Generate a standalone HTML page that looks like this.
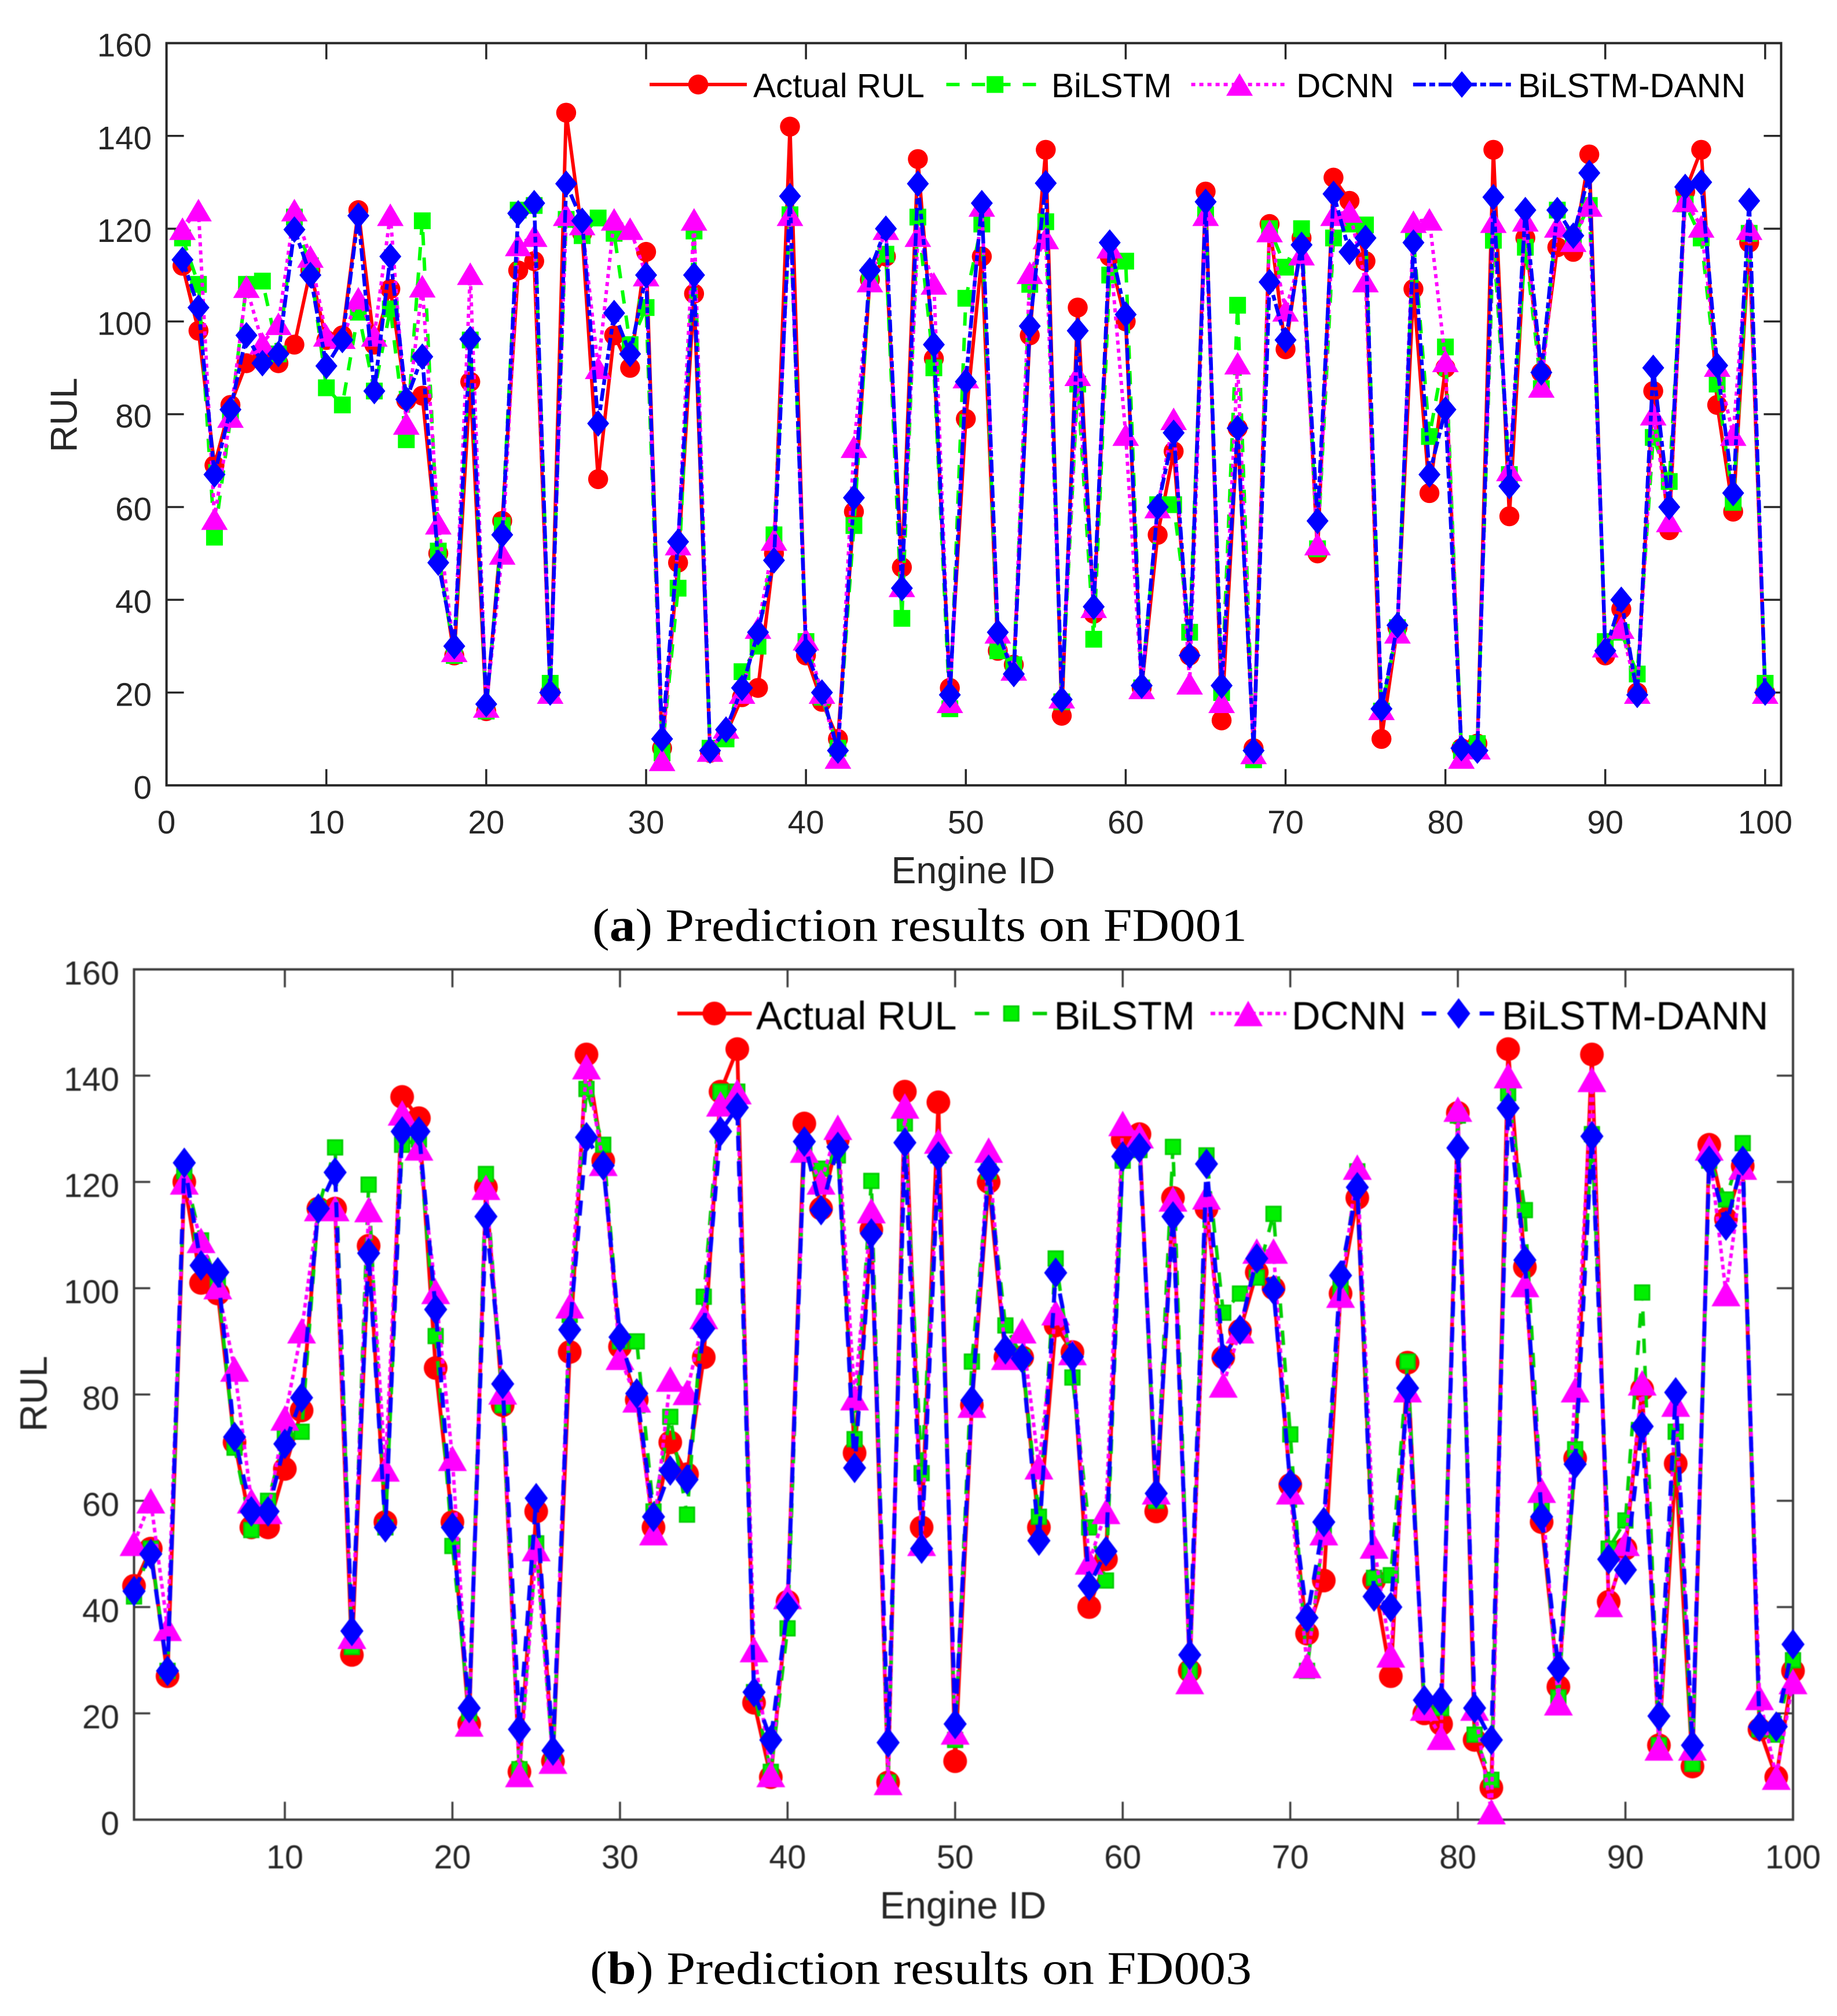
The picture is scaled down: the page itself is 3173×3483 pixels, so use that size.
<!DOCTYPE html>
<html lang="en">
<head>
<meta charset="utf-8">
<title>Prediction results on FD001 and FD003</title>
<style>
html,body{margin:0;padding:0;background:#fff;}
svg{display:block;}
text{font-family:"Liberation Sans",Arial,sans-serif;}
.caption{font-family:"Liberation Serif","Times New Roman",serif;fill:#000;}
#chart-b-group{filter:blur(0.9px);}
</style>
</head>
<body>
<svg id="figure" xmlns="http://www.w3.org/2000/svg" width="3173" height="3483" viewBox="0 0 3173 3483">
<rect x="0" y="0" width="3173" height="3483" fill="#fff"/>
<g id="chart-a-group"></g>
<g id="chart-b-group"></g>
<text class="caption" x="1023" y="1625.5" font-size="80" textLength="1131" lengthAdjust="spacingAndGlyphs">(<tspan font-weight="bold">a</tspan>) Prediction results on FD001</text>
<text class="caption" x="1019" y="3427.7" font-size="81" textLength="1143" lengthAdjust="spacingAndGlyphs">(<tspan font-weight="bold">b</tspan>) Prediction results on FD003</text>
</svg>
<script>
const engineIds=[1,2,3,4,5,6,7,8,9,10,11,12,13,14,15,16,17,18,19,20,21,22,23,24,25,26,27,28,29,30,31,32,33,34,35,36,37,38,39,40,41,42,43,44,45,46,47,48,49,50,51,52,53,54,55,56,57,58,59,60,61,62,63,64,65,66,67,68,69,70,71,72,73,74,75,76,77,78,79,80,81,82,83,84,85,86,87,88,89,90,91,92,93,94,95,96,97,98,99,100];
const yTickLabels=[0,20,40,60,80,100,120,140,160];
const xTickLabelsA=[0,10,20,30,40,50,60,70,80,90,100];
const xTickLabelsB=[10,20,30,40,50,60,70,80,90,100];
const seriesNames=["Actual RUL","BiLSTM","DCNN","BiLSTM-DANN"];

const actualA=[112,98,69,82,91,93,91,95,111,96,97,124,95,107,83,84,50,28,87,16,57,111,113,20,145,119,66,97,90,115,8,48,106,7,11,19,21,50,142,28,18,10,59,109,114,47,135,92,21,79,114,29,26,97,137,15,103,37,114,100,21,54,72,28,128,14,77,8,121,94,118,50,131,126,113,10,34,107,63,90,8,9,137,58,118,89,116,115,136,28,38,20,85,55,128,137,82,59,117,20];
const bilstmA=[118,108,53.5,79,108,108.7,93,122.5,112,85.7,82,102,85,102.7,74.5,121.7,50.5,28,96,16,56,124,125,22,122,118.5,122.3,119,95,103,7,42.5,119.5,8,10,24.5,30,54,123,31,19,8,56,110,114.5,36,122.5,90,16.5,105,121,29,26,108,121.5,18,86.5,31.5,110,113,21,60.5,60.5,33,123,20,103.5,5.5,120,111.7,120,51,118,121,120.8,16,34,118,75.2,94.5,7.5,9,117.5,67,116,85.5,124,118,125,31,33,24,75,65.5,125.3,118,86.5,61,119,22];
const dcnnA=[120,124,57.5,79.5,107.5,95.3,99.5,124,114,97,96.5,105,97,123,78,107.6,56.5,29,110.3,17,50,116.5,118.5,20,123,121,90,122,120,110,5.5,52,122,7.5,12.5,20,34,53,123,31.5,20,6,73,108.7,120,43,118.5,108.2,18,88,125,33,25,110.5,118,19,88.5,38.5,116,75.6,21,60,79,22,123,18,91,7,119.5,102.4,114.5,52,123,123.7,108.7,16.5,33,121.5,122,91.5,6,8,121.5,68,121.8,86,120.5,117.4,125,30,34,20,80,57,126,120.5,90.5,75.6,120,20];
const dannA=[113.3,103,67,81,97,91,93,119.8,110,90.4,96,122.8,85,114,83.2,92.4,48,30,96.2,17.5,54,123.3,125.5,20,129.7,121.7,78,101.8,93,110,10,52.5,110,7.5,12,21,33,48.5,127,29,20,7.5,62,111,120,42.5,129.7,95,19.5,87,125.5,33,24,99,129.8,18.5,98,38.5,117,101.5,21.5,60,76,28,125.8,21.5,77,7.5,108.5,96,116.5,57,127.5,115,118,16.5,34.5,117,67,81,8,7.5,126.8,64.5,124,89,124,118.5,132,29,40,19.5,90,60,129,130,90.5,63,126,20];

const actualB=[44,51,27,120,101,99,71,55,55,66,77,115,115,31,108,56,136,132,85,56,18,119,78,9,58,11,88,144,124,89,79,55,71,65,87,137,145,22,8,41,131,115,128,69,111,7,137,55,135,11,78,120,87,87,55,93,88,40,49,128,129,58,117,28,115,87,92,103,100,63,35,45,99,117,45,27,86,20,18,133,15,6,145,104,56,25,68,144,41,51,81,14,67,10,127,113,123,17,8,28];
const bilstmB=[42,51,28,122,109,101,70,54.5,60,72,73,115,126.5,32.5,119.5,55,127,128,91,51.5,20,121.5,78,9.5,52,11,95,137.5,127,90,90,58,75.8,57.4,98.4,137,137,24,9,36,127,122.5,125,71.6,120.2,7,131,65.2,125,15,86.2,122,93,87,57,105.6,83.2,55,45,124,126,60,126.6,28,125,95.4,99,102,114,72.5,28,55,100,122,45.5,46,86.2,21,21,132.5,16,7.5,136.7,114.7,59,23,69.7,129,51,56.3,99.2,14,73,10.5,124,116.7,127.3,17,16,30];
const dcnnB=[52,60,36,120,109,100.3,84.8,60,58,75.6,92,115,115,34.5,114.8,66,133,126.4,99.4,68,18,119,80.5,8.5,51,11,96.7,141.7,123.5,87,79,54,82.9,80.4,94.7,134.7,137,32,8.5,42,126,120,130.3,79.4,114.6,7,134.3,52,127.7,16.5,78,126,87,92,66.4,95.4,87.9,48.5,58,131,128.7,61.7,116.8,26,117.2,81.8,92,107,107,61.7,29,54,98.7,122.8,51.5,31,80.9,21,15.5,133.7,21,1.5,140,100.7,62,22,80.9,139.3,40.5,52,82.2,13.5,78.2,13.5,126.4,99,122.8,23,8,26];
const dannB=[43,50,28,123.6,104.3,103,72,58,58,70.7,79.4,115,121.8,35.5,106.6,55,129.5,129.5,96,55,21,113.5,82,17,60.5,13,92.2,128.4,123.1,90.8,80.2,57,65.7,64,92.4,129.5,134,24,15,40,127.6,114.7,126.6,66.2,110.3,14.5,127.4,51,124.8,18,78.9,122.3,88.5,86.8,52.5,102.9,87.1,44,50.5,124.8,126.4,61.4,113.5,31,123.4,86.8,92.2,105.6,99.7,63.2,38,56,102.4,119,42,40,81.2,22.5,22.5,126.4,21,15,133.9,105.3,57,28.5,66.9,128.6,49,47,74,19.5,80.4,14,124,111.8,124,17.5,17.5,33];

const NS="http://www.w3.org/2000/svg";
function make(tag,attrs,parent,txt){
  const e=document.createElementNS(NS,tag);
  for(const k in attrs){e.setAttribute(k,attrs[k]);}
  if(txt!==undefined){e.textContent=txt;}
  parent.appendChild(e);
  return e;
}
function marker(shape,x,y,sz,st,parent,label){
  let m;
  if(shape==='circle'){
    m=make('circle',{cx:x,cy:y,r:sz.c/2,fill:st.fill},parent);
  }else if(shape==='square'){
    m=make('rect',{x:x-sz.s/2,y:y-sz.s/2,width:sz.s,height:sz.s,fill:st.fill,stroke:st.edge,'stroke-width':st.edgeW},parent);
  }else if(shape==='triangle'){
    m=make('polygon',{points:(x)+','+(y-sz.th/2)+' '+(x+sz.tw/2)+','+(y+sz.th/2)+' '+(x-sz.tw/2)+','+(y+sz.th/2),fill:st.fill},parent);
  }else{
    m=make('polygon',{points:(x)+','+(y-sz.dh/2)+' '+(x+sz.dw/2)+','+y+' '+(x)+','+(y+sz.dh/2)+' '+(x-sz.dw/2)+','+y,fill:st.fill},parent);
  }
  
  
  return m;
}
function drawChart(cfg){
  const root=document.getElementById(cfg.groupId);
  const xPos=function(v){return cfg.left+(v-cfg.xMin)*(cfg.right-cfg.left)/(cfg.xMax-cfg.xMin);};
  const yPos=function(v){return cfg.bottom-(v-0)*(cfg.bottom-cfg.top)/160;};

  const frame=make('rect',{x:cfg.left,y:cfg.top,width:cfg.right-cfg.left,height:cfg.bottom-cfg.top,fill:'none',stroke:cfg.axisColor,'stroke-width':4},root);
  
  

  cfg.xTicks.forEach(function(t){
    const x=xPos(t);
    const a=make('line',{x1:x,x2:x,y1:cfg.bottom,y2:cfg.bottom-cfg.xTickLen,stroke:cfg.axisColor,'stroke-width':3.5},root);
    
    
    const b=make('line',{x1:x,x2:x,y1:cfg.top,y2:cfg.top+cfg.xTickLen,stroke:cfg.axisColor,'stroke-width':3.5},root);
    
    
    const l=make('text',{x:x,y:cfg.xLabelY,'text-anchor':'middle','font-size':cfg.tickFont,fill:'#262626'},root,String(t));
    
    
  });
  yTickLabels.forEach(function(t){
    const y=yPos(t);
    const a=make('line',{x1:cfg.left,x2:cfg.left+cfg.yTickLen,y1:y,y2:y,stroke:cfg.axisColor,'stroke-width':3.5},root);
    
    
    const b=make('line',{x1:cfg.right,x2:cfg.right-cfg.yTickLen,y1:y,y2:y,stroke:cfg.axisColor,'stroke-width':3.5},root);
    
    
    const l=make('text',{x:cfg.yLabelX,y:y+cfg.yLabelDy,'text-anchor':'end','font-size':cfg.tickFont,fill:'#262626'},root,String(t));
    
    
  });
  const xt=make('text',{x:cfg.xTitleX,y:cfg.xTitleY,'text-anchor':'middle','font-size':cfg.titleFont,fill:'#262626'},root,'Engine ID');
  
  
  const yt=make('text',{x:0,y:0,'text-anchor':'middle','font-size':cfg.titleFont,fill:'#262626',transform:'translate('+cfg.yTitleX+','+cfg.yTitleY+') rotate(-90)'},root,'RUL');
  
  

  cfg.series.forEach(function(s){
    const g=make('g',{},root);
    
    
    const pts=engineIds.map(function(id,i){return xPos(id)+','+yPos(s.values[i]);}).join(' ');
    const ln=make('polyline',{points:pts,fill:'none',stroke:s.line,'stroke-width':s.lw,'stroke-dasharray':s.dash,'stroke-linejoin':'round'},g);
    
    
    engineIds.forEach(function(id,i){
      marker(s.shape,xPos(id),yPos(s.values[i]),cfg.sizes,s,g,s.slug+'-point');
    });
  });

  const leg=make('g',{},root);
  
  
  cfg.series.forEach(function(s,i){
    const p=cfg.legend[i];
    const e=make('g',{},leg);
    
    
    const ln=make('line',{x1:p.x1,x2:p.x2,y1:cfg.legendY,y2:cfg.legendY,stroke:s.line,'stroke-width':s.lw,'stroke-dasharray':s.legendDash||s.dash},e);
    
    
    marker(s.shape,p.m,cfg.legendY,cfg.sizes,s,e,'legend-marker-'+s.slug);
    const t=make('text',{x:p.t,y:cfg.legendBase,'font-size':cfg.legendFont,fill:'#000'},e,seriesNames[i]);
    
    
  });
}

drawChart({
  groupId:'chart-a-group',left:287.6,right:3076.5,top:74.5,bottom:1356.8,xMin:0,xMax:101,
  xTicks:xTickLabelsA,axisColor:'#262626',xTickLen:28,yTickLen:30,
  xLabelY:1440,yLabelX:262,yLabelDy:23,tickFont:56.5,titleFont:64.5,
  xTitleX:1681,xTitleY:1526,yTitleX:132.6,yTitleY:717,
  sizes:{c:34.5,s:29,tw:46,th:39,dw:38,dh:46},
  legendY:146,legendBase:168,legendFont:58.5,
  legend:[{x1:1122,x2:1290,m:1206,t:1301},{x1:1634.5,x2:1791,m:1718.7,t:1816},{x1:2057.6,x2:2219.8,m:2141,t:2239},{x1:2440.8,x2:2609.8,m:2525,t:2622}],
  series:[
    {slug:'actual-rul',values:actualA,shape:'circle',line:'#ff0000',fill:'#ff0000',lw:6,dash:'none'},
    {slug:'bilstm',values:bilstmA,shape:'square',line:'#00ff00',fill:'#00ff00',edge:'none',edgeW:0,lw:6,dash:'23 21'},
    {slug:'dcnn',values:dcnnA,shape:'triangle',line:'#ff00ff',fill:'#ff00ff',lw:6,dash:'7 7'},
    {slug:'bilstm-dann',values:dannA,shape:'diamond',line:'#0000ff',fill:'#0000ff',lw:6.5,dash:'22 6 10 6'}
  ]
});
drawChart({
  groupId:'chart-b-group',left:231.5,right:3097,top:1674.8,bottom:3143.8,xMin:1,xMax:100,
  xTicks:xTickLabelsB,axisColor:'#3a3a3a',xTickLen:31,yTickLen:28,
  xLabelY:3228,yLabelX:206,yLabelDy:26,tickFont:57.5,titleFont:65.5,
  xTitleX:1663.5,xTitleY:3314.6,yTitleX:80.7,yTitleY:2408,
  sizes:{c:41,s:25,tw:50,th:44,dw:40,dh:53},
  legendY:1751,legendBase:1778.4,legendFont:68.5,
  legend:[{x1:1170,x2:1298.5,m:1234,t:1306},{x1:1683.6,x2:1808.5,m:1746.8,t:1820.5},{x1:2091,x2:2221.8,m:2156,t:2231},{x1:2455.8,x2:2581,m:2519.5,t:2594}],
  series:[
    {slug:'actual-rul',values:actualB,shape:'circle',line:'#ff0000',fill:'#ff0000',lw:6.5,dash:'none'},
    {slug:'bilstm',values:bilstmB,shape:'square',line:'#00d000',fill:'#00f000',edge:'#00cc00',edgeW:3,lw:6,dash:'25 22',legendDash:'25 25'},
    {slug:'dcnn',values:dcnnB,shape:'triangle',line:'#ff00ff',fill:'#ff00ff',lw:6,dash:'8 6'},
    {slug:'bilstm-dann',values:dannB,shape:'diamond',line:'#0000ff',fill:'#0000ff',lw:7,dash:'26 18',legendDash:'25 25'}
  ]
});
</script>
</body>
</html>
